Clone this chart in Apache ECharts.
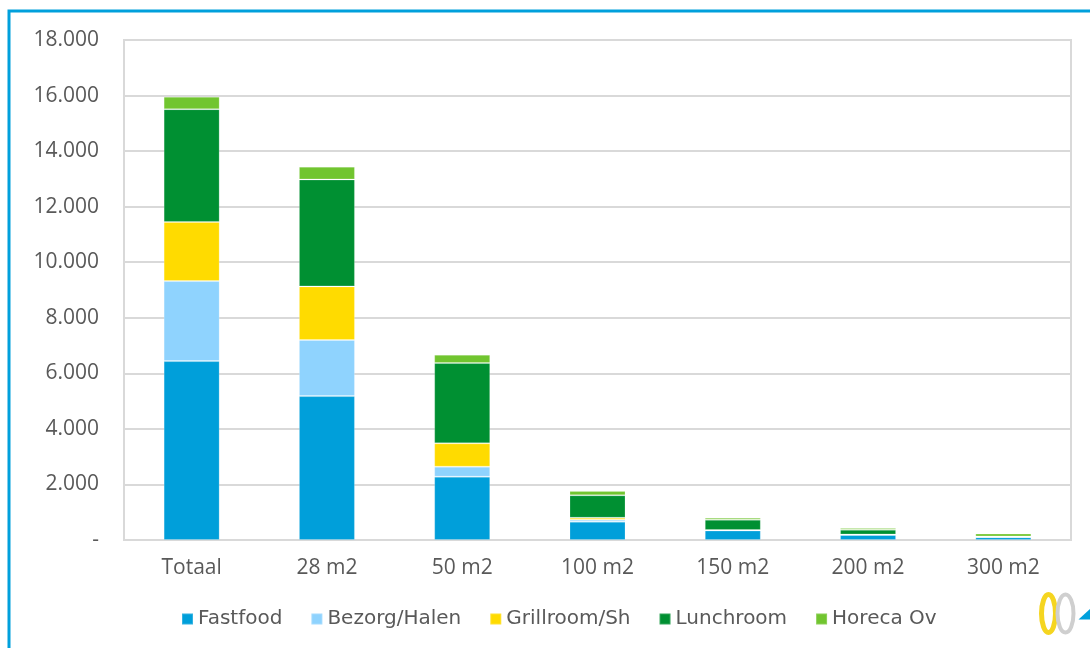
<!DOCTYPE html>
<html>
<head>
<meta charset="utf-8">
<script src="https://cdn.jsdelivr.net/npm/echarts@6/dist/echarts.min.js"></script>
<style>
  html, body { margin: 0; padding: 0; background: #fff; }
  #chart { width: 1090px; height: 648px; }
</style>
</head>
<body>
<div id="chart"></div>
<script>
const categories = ['Totaal', '28 m2', '50 m2', '100 m2', '150 m2', '200 m2', '300 m2'];
const seriesNames = ['Fastfood', 'Bezorg/Halen', 'Grillroom/Sh', 'Lunchroom', 'Horeca Ov'];
const colors = ['#009fda', '#8fd3fe', '#ffdb00', '#009032', '#71c52f'];

const fastfood = [6440, 5180, 2280, 660, 340, 180, 100];
const bezorg = [2880, 2020, 360, 70, 10, 10, 0];
const grillroom = [2130, 1930, 840, 70, 10, 10, 0];
const lunchroom = [4060, 3850, 2890, 810, 370, 170, 30];
const horeca = [450, 460, 300, 150, 70, 60, 100];

const yTicks = { min: 0, max: 18000, interval: 2000 };

var seriesData = [fastfood, bezorg, grillroom, lunchroom, horeca];

function fmt(v) {
  if (v === 0) return '-';
  return String(v).replace(/\B(?=(\d{3})+(?!\d))/g, '.');
}

var chart = echarts.init(document.getElementById('chart'));

var option = {
  backgroundColor: '#fff',
  animation: false,
  color: colors,
  grid: {
    left: 124, right: 19, top: 40, bottom: 108,
    show: true, borderColor: '#d9d9d9', borderWidth: 2
  },
  legend: {
    bottom: 14,
    left: 176,
    itemWidth: 11,
    itemHeight: 11,
    itemGap: 28,
    icon: 'rect',
    textStyle: { fontFamily: 'DejaVu Sans', fontSize: 20, color: '#595959' },
    data: seriesNames
  },
  xAxis: {
    type: 'category',
    data: categories,
    axisLine: { lineStyle: { color: '#d9d9d9', width: 2 } },
    axisTick: { show: false },
    axisLabel: { margin: 18, fontFamily: 'Open Sans', fontSize: 21, color: '#595959' }
  },
  yAxis: {
    type: 'value',
    min: yTicks.min,
    max: yTicks.max,
    interval: yTicks.interval,
    axisLine: { show: false },
    axisTick: { show: false },
    splitLine: { lineStyle: { color: '#d9d9d9', width: 2 } },
    axisLabel: { margin: 25, fontFamily: 'Open Sans', fontSize: 21, color: '#595959', formatter: fmt }
  },
  series: seriesNames.map(function(name, i) {
    return {
      name: name,
      type: 'bar',
      stack: 'totaal',
      barWidth: 56,
      data: seriesData[i],
      itemStyle: { color: colors[i], borderColor: 'rgba(255,255,255,0.2)', borderWidth: 1 }
    };
  }),
  graphic: [
    {
      type: 'rect',
      shape: { x: 9, y: 11, width: 1200, height: 800 },
      style: { fill: 'none', stroke: '#00a0dc', lineWidth: 3 },
      silent: true
    },
    {
      type: 'group',
      left: 1039, top: 592,
      children: [
        { type: 'ellipse', shape: { cx: 9, cy: 22, rx: 7, ry: 19 }, style: { fill: 'none', stroke: '#f5d520', lineWidth: 5 } },
        { type: 'ellipse', shape: { cx: 26, cy: 22, rx: 8, ry: 19 }, style: { fill: 'none', stroke: '#cfcfcf', lineWidth: 4 } },
        { type: 'polygon', shape: { points: [[39, 28], [52, 16], [52, 28]] }, style: { fill: '#00a0dc' } }
      ]
    }
  ]
};

chart.setOption(option);
</script>
</body>
</html>
